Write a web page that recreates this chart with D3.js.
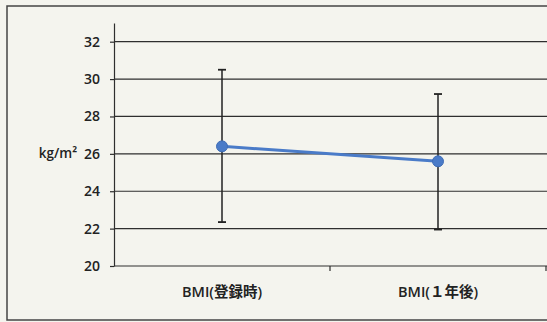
<!DOCTYPE html>
<html>
<head>
<meta charset="utf-8">
<script src="https://cdn.jsdelivr.net/npm/d3@7"></script>
<style>
  html, body { margin: 0; padding: 0; background: #f4f4ee; }
  svg { display: block; }
</style>
</head>
<body>
<script>
// BMI at registration and after one year: mean with ± SD error bars
const categories = ["BMI(登録時)", "BMI(１年後)"];
const means = [26.4, 25.6];
const upper = [30.5, 29.2];
const lower = [22.35, 21.95];
const yTicks = [20, 22, 24, 26, 28, 30, 32];
const yUnit = "kg/m²";

const W = 547, H = 322;
const svg = d3.select("body").append("svg").attr("width", W).attr("height", H);

// outer frame
svg.append("rect")
  .attr("x", 7).attr("y", 6).attr("width", W + 10).attr("height", 314)
  .attr("fill", "none").attr("stroke", "#444").attr("stroke-width", 1.5);

const x0 = 114, x1 = 546;
const y = d3.scaleLinear().domain([20, 33]).range([266, 23]);
const x = d3.scaleBand().domain(categories).range([x0, x1]);

const font = "'Open Sans', 'Noto Sans CJK JP', sans-serif";

// horizontal gridlines
svg.append("g").selectAll("line").data(yTicks).join("line")
  .attr("x1", x0).attr("x2", W)
  .attr("y1", d => y(d)).attr("y2", d => y(d))
  .attr("stroke", "#2e2e2e").attr("stroke-width", 1.2);

// y axis
const yAxis = svg.append("g").attr("transform", `translate(${x0},0)`)
  .call(d3.axisLeft(y).tickValues(yTicks).tickSizeInner(4).tickSizeOuter(0).tickPadding(10));
yAxis.select(".domain").attr("stroke", "#2e2e2e").attr("stroke-width", 1.2);
yAxis.selectAll(".tick line").attr("stroke", "#2e2e2e").attr("stroke-width", 1.2);
yAxis.selectAll(".tick text")
  .attr("font-family", font).attr("font-size", 14).attr("font-weight", 600)
  .attr("fill", "#222");

// x axis
const xAxis = svg.append("g").attr("transform", `translate(0,${y(20)})`)
  .call(d3.axisBottom(x).tickSize(0).tickPadding(21));
xAxis.select(".domain").remove();
xAxis.selectAll(".tick text")
  .attr("font-family", font).attr("font-size", 14.5).attr("font-weight", 600)
  .attr("fill", "#222");
// category boundary ticks
svg.append("g").selectAll("line").data([x.step() + x0, x1]).join("line")
  .attr("x1", d => d).attr("x2", d => d)
  .attr("y1", y(20)).attr("y2", y(20) + 5)
  .attr("stroke", "#2e2e2e").attr("stroke-width", 1.2);

// unit label
svg.append("text")
  .attr("x", 58).attr("y", y(26) + 4)
  .attr("text-anchor", "middle")
  .attr("font-family", font).attr("font-size", 13.5).attr("font-weight", 600)
  .attr("fill", "#222")
  .text(yUnit);

const cx = d => x(d) + x.bandwidth() / 2;

// error bars
const eb = svg.append("g");
categories.forEach((c, i) => {
  eb.append("line")
    .attr("x1", cx(c)).attr("x2", cx(c))
    .attr("y1", y(upper[i])).attr("y2", y(lower[i]))
    .attr("stroke", "#222").attr("stroke-width", 1.5);
  [upper[i], lower[i]].forEach(v => {
    eb.append("line")
      .attr("x1", cx(c) - 4).attr("x2", cx(c) + 4)
      .attr("y1", y(v)).attr("y2", y(v))
      .attr("stroke", "#222").attr("stroke-width", 1.8);
  });
});

// mean line and markers
const pts = categories.map((c, i) => [cx(c), y(means[i])]);
svg.append("path")
  .attr("d", d3.line()(pts))
  .attr("fill", "none").attr("stroke", "#4a7bc8").attr("stroke-width", 3);
svg.append("g").selectAll("circle").data(pts).join("circle")
  .attr("cx", d => d[0]).attr("cy", d => d[1]).attr("r", 5.5)
  .attr("fill", "#4a7bc8").attr("stroke", "#3f6db5").attr("stroke-width", 1);
</script>
</body>
</html>
